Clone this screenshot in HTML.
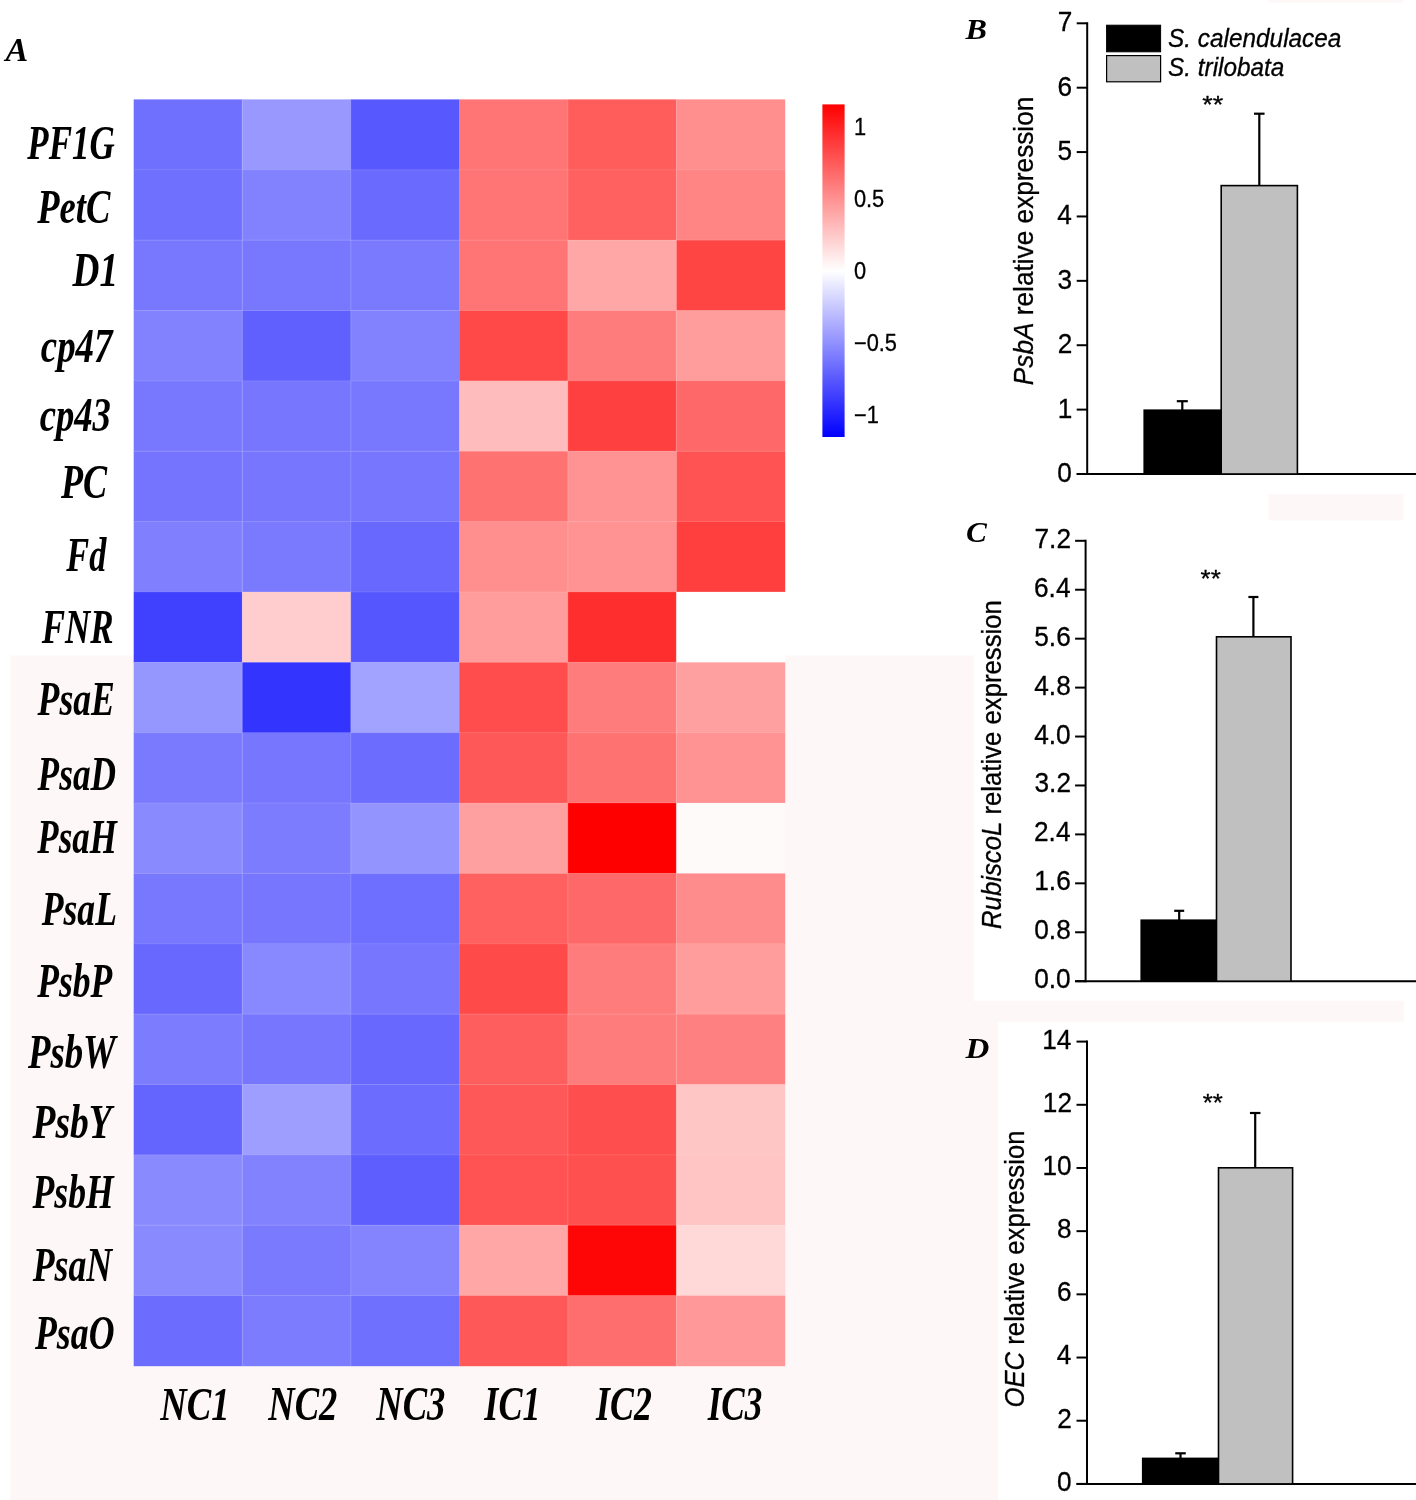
<!DOCTYPE html>
<html><head><meta charset="utf-8"><title>Figure</title>
<style>html,body{margin:0;padding:0;background:#fff;}body{width:1416px;height:1500px;overflow:hidden;}svg{display:block;will-change:transform;}text{fill:#000;}</style>
</head><body>
<svg width="1416" height="1500" viewBox="0 0 1416 1500">
<rect x="0" y="0" width="1416" height="1500" fill="#fff"/>
<polygon fill="#fdf8f7" points="10.4,655.5 973.7,655.5 973.7,1000.7 1403.8,1000.7 1403.8,1021.8 998,1021.8 998,1500 10.4,1500"/>
<rect fill="#fdf8f7" x="1268.3" y="0" width="135.2" height="2.8"/>
<rect fill="#fdf8f7" x="1268.3" y="494" width="135.2" height="26.5"/>
<rect x="133.70" y="99.40" width="108.83" height="70.66" fill="rgb(112,112,255)"/>
<rect x="242.23" y="99.40" width="108.83" height="70.66" fill="rgb(152,152,255)"/>
<rect x="350.77" y="99.40" width="108.83" height="70.66" fill="rgb(88,88,255)"/>
<rect x="459.30" y="99.40" width="108.83" height="70.66" fill="rgb(255,116,116)"/>
<rect x="567.83" y="99.40" width="108.83" height="70.66" fill="rgb(255,92,92)"/>
<rect x="676.37" y="99.40" width="108.83" height="70.66" fill="rgb(255,142,142)"/>
<rect x="133.70" y="169.76" width="108.83" height="70.66" fill="rgb(112,112,255)"/>
<rect x="242.23" y="169.76" width="108.83" height="70.66" fill="rgb(130,130,255)"/>
<rect x="350.77" y="169.76" width="108.83" height="70.66" fill="rgb(106,106,255)"/>
<rect x="459.30" y="169.76" width="108.83" height="70.66" fill="rgb(255,116,116)"/>
<rect x="567.83" y="169.76" width="108.83" height="70.66" fill="rgb(255,96,96)"/>
<rect x="676.37" y="169.76" width="108.83" height="70.66" fill="rgb(255,132,132)"/>
<rect x="133.70" y="240.12" width="108.83" height="70.66" fill="rgb(120,120,255)"/>
<rect x="242.23" y="240.12" width="108.83" height="70.66" fill="rgb(120,120,255)"/>
<rect x="350.77" y="240.12" width="108.83" height="70.66" fill="rgb(122,122,255)"/>
<rect x="459.30" y="240.12" width="108.83" height="70.66" fill="rgb(255,116,116)"/>
<rect x="567.83" y="240.12" width="108.83" height="70.66" fill="rgb(255,166,166)"/>
<rect x="676.37" y="240.12" width="108.83" height="70.66" fill="rgb(255,68,68)"/>
<rect x="133.70" y="310.48" width="108.83" height="70.66" fill="rgb(130,130,255)"/>
<rect x="242.23" y="310.48" width="108.83" height="70.66" fill="rgb(96,96,255)"/>
<rect x="350.77" y="310.48" width="108.83" height="70.66" fill="rgb(130,130,255)"/>
<rect x="459.30" y="310.48" width="108.83" height="70.66" fill="rgb(255,72,72)"/>
<rect x="567.83" y="310.48" width="108.83" height="70.66" fill="rgb(255,124,124)"/>
<rect x="676.37" y="310.48" width="108.83" height="70.66" fill="rgb(255,156,156)"/>
<rect x="133.70" y="380.84" width="108.83" height="70.66" fill="rgb(120,120,255)"/>
<rect x="242.23" y="380.84" width="108.83" height="70.66" fill="rgb(118,118,255)"/>
<rect x="350.77" y="380.84" width="108.83" height="70.66" fill="rgb(120,120,255)"/>
<rect x="459.30" y="380.84" width="108.83" height="70.66" fill="rgb(255,188,188)"/>
<rect x="567.83" y="380.84" width="108.83" height="70.66" fill="rgb(255,64,64)"/>
<rect x="676.37" y="380.84" width="108.83" height="70.66" fill="rgb(255,104,104)"/>
<rect x="133.70" y="451.21" width="108.83" height="70.66" fill="rgb(116,116,255)"/>
<rect x="242.23" y="451.21" width="108.83" height="70.66" fill="rgb(118,118,255)"/>
<rect x="350.77" y="451.21" width="108.83" height="70.66" fill="rgb(118,118,255)"/>
<rect x="459.30" y="451.21" width="108.83" height="70.66" fill="rgb(255,114,114)"/>
<rect x="567.83" y="451.21" width="108.83" height="70.66" fill="rgb(255,146,146)"/>
<rect x="676.37" y="451.21" width="108.83" height="70.66" fill="rgb(255,82,82)"/>
<rect x="133.70" y="521.57" width="108.83" height="70.66" fill="rgb(128,128,255)"/>
<rect x="242.23" y="521.57" width="108.83" height="70.66" fill="rgb(122,122,255)"/>
<rect x="350.77" y="521.57" width="108.83" height="70.66" fill="rgb(104,104,255)"/>
<rect x="459.30" y="521.57" width="108.83" height="70.66" fill="rgb(255,142,142)"/>
<rect x="567.83" y="521.57" width="108.83" height="70.66" fill="rgb(255,146,146)"/>
<rect x="676.37" y="521.57" width="108.83" height="70.66" fill="rgb(255,62,62)"/>
<rect x="133.70" y="591.93" width="108.83" height="70.66" fill="rgb(64,64,255)"/>
<rect x="242.23" y="591.93" width="108.83" height="70.66" fill="rgb(255,205,205)"/>
<rect x="350.77" y="591.93" width="108.83" height="70.66" fill="rgb(86,86,255)"/>
<rect x="459.30" y="591.93" width="108.83" height="70.66" fill="rgb(255,156,156)"/>
<rect x="567.83" y="591.93" width="108.83" height="70.66" fill="rgb(255,46,46)"/>
<rect x="676.37" y="591.93" width="108.83" height="70.66" fill="rgb(255,255,255)"/>
<rect x="133.70" y="662.29" width="108.83" height="70.66" fill="rgb(150,150,255)"/>
<rect x="242.23" y="662.29" width="108.83" height="70.66" fill="rgb(52,52,255)"/>
<rect x="350.77" y="662.29" width="108.83" height="70.66" fill="rgb(162,162,255)"/>
<rect x="459.30" y="662.29" width="108.83" height="70.66" fill="rgb(255,76,76)"/>
<rect x="567.83" y="662.29" width="108.83" height="70.66" fill="rgb(255,124,124)"/>
<rect x="676.37" y="662.29" width="108.83" height="70.66" fill="rgb(255,160,160)"/>
<rect x="133.70" y="732.65" width="108.83" height="70.66" fill="rgb(122,122,255)"/>
<rect x="242.23" y="732.65" width="108.83" height="70.66" fill="rgb(118,118,255)"/>
<rect x="350.77" y="732.65" width="108.83" height="70.66" fill="rgb(108,108,255)"/>
<rect x="459.30" y="732.65" width="108.83" height="70.66" fill="rgb(255,88,88)"/>
<rect x="567.83" y="732.65" width="108.83" height="70.66" fill="rgb(255,114,114)"/>
<rect x="676.37" y="732.65" width="108.83" height="70.66" fill="rgb(255,146,146)"/>
<rect x="133.70" y="803.01" width="108.83" height="70.66" fill="rgb(138,138,255)"/>
<rect x="242.23" y="803.01" width="108.83" height="70.66" fill="rgb(124,124,255)"/>
<rect x="350.77" y="803.01" width="108.83" height="70.66" fill="rgb(148,148,255)"/>
<rect x="459.30" y="803.01" width="108.83" height="70.66" fill="rgb(255,160,160)"/>
<rect x="567.83" y="803.01" width="108.83" height="70.66" fill="rgb(255,0,0)"/>
<rect x="676.37" y="803.01" width="108.83" height="70.66" fill="rgb(255,250,250)"/>
<rect x="133.70" y="873.37" width="108.83" height="70.66" fill="rgb(120,120,255)"/>
<rect x="242.23" y="873.37" width="108.83" height="70.66" fill="rgb(118,118,255)"/>
<rect x="350.77" y="873.37" width="108.83" height="70.66" fill="rgb(110,110,255)"/>
<rect x="459.30" y="873.37" width="108.83" height="70.66" fill="rgb(255,96,96)"/>
<rect x="567.83" y="873.37" width="108.83" height="70.66" fill="rgb(255,104,104)"/>
<rect x="676.37" y="873.37" width="108.83" height="70.66" fill="rgb(255,140,140)"/>
<rect x="133.70" y="943.73" width="108.83" height="70.66" fill="rgb(104,104,255)"/>
<rect x="242.23" y="943.73" width="108.83" height="70.66" fill="rgb(136,136,255)"/>
<rect x="350.77" y="943.73" width="108.83" height="70.66" fill="rgb(118,118,255)"/>
<rect x="459.30" y="943.73" width="108.83" height="70.66" fill="rgb(255,74,74)"/>
<rect x="567.83" y="943.73" width="108.83" height="70.66" fill="rgb(255,124,124)"/>
<rect x="676.37" y="943.73" width="108.83" height="70.66" fill="rgb(255,156,156)"/>
<rect x="133.70" y="1014.09" width="108.83" height="70.66" fill="rgb(124,124,255)"/>
<rect x="242.23" y="1014.09" width="108.83" height="70.66" fill="rgb(118,118,255)"/>
<rect x="350.77" y="1014.09" width="108.83" height="70.66" fill="rgb(104,104,255)"/>
<rect x="459.30" y="1014.09" width="108.83" height="70.66" fill="rgb(255,94,94)"/>
<rect x="567.83" y="1014.09" width="108.83" height="70.66" fill="rgb(255,124,124)"/>
<rect x="676.37" y="1014.09" width="108.83" height="70.66" fill="rgb(255,128,128)"/>
<rect x="133.70" y="1084.46" width="108.83" height="70.66" fill="rgb(100,100,255)"/>
<rect x="242.23" y="1084.46" width="108.83" height="70.66" fill="rgb(158,158,255)"/>
<rect x="350.77" y="1084.46" width="108.83" height="70.66" fill="rgb(108,108,255)"/>
<rect x="459.30" y="1084.46" width="108.83" height="70.66" fill="rgb(255,88,88)"/>
<rect x="567.83" y="1084.46" width="108.83" height="70.66" fill="rgb(255,78,78)"/>
<rect x="676.37" y="1084.46" width="108.83" height="70.66" fill="rgb(255,198,198)"/>
<rect x="133.70" y="1154.82" width="108.83" height="70.66" fill="rgb(138,138,255)"/>
<rect x="242.23" y="1154.82" width="108.83" height="70.66" fill="rgb(130,130,255)"/>
<rect x="350.77" y="1154.82" width="108.83" height="70.66" fill="rgb(94,94,255)"/>
<rect x="459.30" y="1154.82" width="108.83" height="70.66" fill="rgb(255,82,82)"/>
<rect x="567.83" y="1154.82" width="108.83" height="70.66" fill="rgb(255,80,80)"/>
<rect x="676.37" y="1154.82" width="108.83" height="70.66" fill="rgb(255,196,196)"/>
<rect x="133.70" y="1225.18" width="108.83" height="70.66" fill="rgb(138,138,255)"/>
<rect x="242.23" y="1225.18" width="108.83" height="70.66" fill="rgb(122,122,255)"/>
<rect x="350.77" y="1225.18" width="108.83" height="70.66" fill="rgb(132,132,255)"/>
<rect x="459.30" y="1225.18" width="108.83" height="70.66" fill="rgb(255,166,166)"/>
<rect x="567.83" y="1225.18" width="108.83" height="70.66" fill="rgb(255,6,6)"/>
<rect x="676.37" y="1225.18" width="108.83" height="70.66" fill="rgb(255,216,216)"/>
<rect x="133.70" y="1295.54" width="108.83" height="70.66" fill="rgb(108,108,255)"/>
<rect x="242.23" y="1295.54" width="108.83" height="70.66" fill="rgb(124,124,255)"/>
<rect x="350.77" y="1295.54" width="108.83" height="70.66" fill="rgb(112,112,255)"/>
<rect x="459.30" y="1295.54" width="108.83" height="70.66" fill="rgb(255,88,88)"/>
<rect x="567.83" y="1295.54" width="108.83" height="70.66" fill="rgb(255,110,110)"/>
<rect x="676.37" y="1295.54" width="108.83" height="70.66" fill="rgb(255,152,152)"/>
<line x1="242.23" y1="99.4" x2="242.23" y2="1365.9" stroke="#fff" stroke-opacity="0.18" stroke-width="1"/>
<line x1="350.77" y1="99.4" x2="350.77" y2="1365.9" stroke="#fff" stroke-opacity="0.18" stroke-width="1"/>
<line x1="567.83" y1="99.4" x2="567.83" y2="1365.9" stroke="#fff" stroke-opacity="0.18" stroke-width="1"/>
<line x1="676.37" y1="99.4" x2="676.37" y2="1365.9" stroke="#fff" stroke-opacity="0.18" stroke-width="1"/>
<line x1="133.7" y1="169.76" x2="784.9" y2="169.76" stroke="#fff" stroke-opacity="0.12" stroke-width="1"/>
<line x1="133.7" y1="240.12" x2="784.9" y2="240.12" stroke="#fff" stroke-opacity="0.12" stroke-width="1"/>
<line x1="133.7" y1="310.48" x2="784.9" y2="310.48" stroke="#fff" stroke-opacity="0.12" stroke-width="1"/>
<line x1="133.7" y1="380.84" x2="784.9" y2="380.84" stroke="#fff" stroke-opacity="0.12" stroke-width="1"/>
<line x1="133.7" y1="451.21" x2="784.9" y2="451.21" stroke="#fff" stroke-opacity="0.12" stroke-width="1"/>
<line x1="133.7" y1="521.57" x2="784.9" y2="521.57" stroke="#fff" stroke-opacity="0.12" stroke-width="1"/>
<line x1="133.7" y1="591.93" x2="784.9" y2="591.93" stroke="#fff" stroke-opacity="0.12" stroke-width="1"/>
<line x1="133.7" y1="662.29" x2="784.9" y2="662.29" stroke="#fff" stroke-opacity="0.12" stroke-width="1"/>
<line x1="133.7" y1="732.65" x2="784.9" y2="732.65" stroke="#fff" stroke-opacity="0.12" stroke-width="1"/>
<line x1="133.7" y1="803.01" x2="784.9" y2="803.01" stroke="#fff" stroke-opacity="0.12" stroke-width="1"/>
<line x1="133.7" y1="873.37" x2="784.9" y2="873.37" stroke="#fff" stroke-opacity="0.12" stroke-width="1"/>
<line x1="133.7" y1="943.73" x2="784.9" y2="943.73" stroke="#fff" stroke-opacity="0.12" stroke-width="1"/>
<line x1="133.7" y1="1014.09" x2="784.9" y2="1014.09" stroke="#fff" stroke-opacity="0.12" stroke-width="1"/>
<line x1="133.7" y1="1084.46" x2="784.9" y2="1084.46" stroke="#fff" stroke-opacity="0.12" stroke-width="1"/>
<line x1="133.7" y1="1154.82" x2="784.9" y2="1154.82" stroke="#fff" stroke-opacity="0.12" stroke-width="1"/>
<line x1="133.7" y1="1225.18" x2="784.9" y2="1225.18" stroke="#fff" stroke-opacity="0.12" stroke-width="1"/>
<line x1="133.7" y1="1295.54" x2="784.9" y2="1295.54" stroke="#fff" stroke-opacity="0.12" stroke-width="1"/>
<text transform="translate(27.30,158.80) scale(0.7059,1)" font-family="'Liberation Serif',serif" font-style="italic" font-weight="bold" font-size="49.5" stroke="#000" stroke-width="0.02">PF1G</text>
<text transform="translate(37.30,223.20) scale(0.7377,1)" font-family="'Liberation Serif',serif" font-style="italic" font-weight="bold" font-size="49.5" stroke="#000" stroke-width="0.02">PetC</text>
<text transform="translate(72.59,286.00) scale(0.7524,1)" font-family="'Liberation Serif',serif" font-style="italic" font-weight="bold" font-size="49.5" stroke="#000" stroke-width="0.02">D1</text>
<text transform="translate(40.85,362.20) scale(0.7443,1)" font-family="'Liberation Serif',serif" font-style="italic" font-weight="bold" font-size="49.5" stroke="#000" stroke-width="0.02">cp47</text>
<text transform="translate(39.65,430.90) scale(0.7413,1)" font-family="'Liberation Serif',serif" font-style="italic" font-weight="bold" font-size="49.5" stroke="#000" stroke-width="0.02">cp43</text>
<text transform="translate(61.00,498.30) scale(0.7295,1)" font-family="'Liberation Serif',serif" font-style="italic" font-weight="bold" font-size="49.5" stroke="#000" stroke-width="0.02">PC</text>
<text transform="translate(66.30,570.70) scale(0.6929,1)" font-family="'Liberation Serif',serif" font-style="italic" font-weight="bold" font-size="49.5" stroke="#000" stroke-width="0.02">Fd</text>
<text transform="translate(41.70,643.20) scale(0.7061,1)" font-family="'Liberation Serif',serif" font-style="italic" font-weight="bold" font-size="49.5" stroke="#000" stroke-width="0.02">FNR</text>
<text transform="translate(37.60,715.20) scale(0.7204,1)" font-family="'Liberation Serif',serif" font-style="italic" font-weight="bold" font-size="49.5" stroke="#000" stroke-width="0.02">PsaE</text>
<text transform="translate(37.60,790.00) scale(0.7135,1)" font-family="'Liberation Serif',serif" font-style="italic" font-weight="bold" font-size="49.5" stroke="#000" stroke-width="0.02">PsaD</text>
<text transform="translate(37.30,852.50) scale(0.7055,1)" font-family="'Liberation Serif',serif" font-style="italic" font-weight="bold" font-size="49.5" stroke="#000" stroke-width="0.02">PsaH</text>
<text transform="translate(41.70,925.20) scale(0.7200,1)" font-family="'Liberation Serif',serif" font-style="italic" font-weight="bold" font-size="49.5" stroke="#000" stroke-width="0.02">PsaL</text>
<text transform="translate(37.30,997.00) scale(0.7185,1)" font-family="'Liberation Serif',serif" font-style="italic" font-weight="bold" font-size="49.5" stroke="#000" stroke-width="0.02">PsbP</text>
<text transform="translate(27.90,1067.90) scale(0.7438,1)" font-family="'Liberation Serif',serif" font-style="italic" font-weight="bold" font-size="49.5" stroke="#000" stroke-width="0.02">PsbW</text>
<text transform="translate(32.50,1138.00) scale(0.7583,1)" font-family="'Liberation Serif',serif" font-style="italic" font-weight="bold" font-size="49.5" stroke="#000" stroke-width="0.02">PsbY</text>
<text transform="translate(32.50,1207.60) scale(0.7204,1)" font-family="'Liberation Serif',serif" font-style="italic" font-weight="bold" font-size="49.5" stroke="#000" stroke-width="0.02">PsbH</text>
<text transform="translate(32.70,1281.20) scale(0.7228,1)" font-family="'Liberation Serif',serif" font-style="italic" font-weight="bold" font-size="49.5" stroke="#000" stroke-width="0.02">PsaN</text>
<text transform="translate(35.00,1349.40) scale(0.7225,1)" font-family="'Liberation Serif',serif" font-style="italic" font-weight="bold" font-size="49.5" stroke="#000" stroke-width="0.02">PsaO</text>
<text transform="translate(160.37,1420.00) scale(0.7719,1)" font-family="'Liberation Serif',serif" font-style="italic" font-weight="bold" font-size="47.5" stroke="#000" stroke-width="0.02">NC1</text>
<text transform="translate(268.37,1420.00) scale(0.7691,1)" font-family="'Liberation Serif',serif" font-style="italic" font-weight="bold" font-size="47.5" stroke="#000" stroke-width="0.02">NC2</text>
<text transform="translate(376.37,1420.00) scale(0.7691,1)" font-family="'Liberation Serif',serif" font-style="italic" font-weight="bold" font-size="47.5" stroke="#000" stroke-width="0.02">NC3</text>
<text transform="translate(484.36,1420.00) scale(0.7588,1)" font-family="'Liberation Serif',serif" font-style="italic" font-weight="bold" font-size="47.5" stroke="#000" stroke-width="0.02">IC1</text>
<text transform="translate(596.06,1420.00) scale(0.7546,1)" font-family="'Liberation Serif',serif" font-style="italic" font-weight="bold" font-size="47.5" stroke="#000" stroke-width="0.02">IC2</text>
<text transform="translate(707.65,1420.00) scale(0.7382,1)" font-family="'Liberation Serif',serif" font-style="italic" font-weight="bold" font-size="47.5" stroke="#000" stroke-width="0.02">IC3</text>
<text transform="translate(5.50,60.60) scale(1.0325,1)" font-family="'Liberation Serif',serif" font-style="italic" font-weight="bold" font-size="33" >A</text>
<text transform="translate(965.62,39.30) scale(1.0911,1)" font-family="'Liberation Serif',serif" font-style="italic" font-weight="bold" font-size="29.5" >B</text>
<text transform="translate(965.91,542.00) scale(1.0417,1)" font-family="'Liberation Serif',serif" font-style="italic" font-weight="bold" font-size="30" >C</text>
<text transform="translate(965.47,1057.60) scale(1.1017,1)" font-family="'Liberation Serif',serif" font-style="italic" font-weight="bold" font-size="30" >D</text>
<defs><linearGradient id="cb" x1="0" y1="0" x2="0" y2="1"><stop offset="0" stop-color="#ff0000"/><stop offset="0.5" stop-color="#ffffff"/><stop offset="1" stop-color="#0000ff"/></linearGradient></defs>
<rect x="822.4" y="104.4" width="22.2" height="332.6" fill="url(#cb)"/>
<text transform="translate(853.9,135.1) scale(0.925,1)" font-family="'Liberation Sans',sans-serif" font-size="23.6" stroke="#000" stroke-width="0.3">1</text>
<text transform="translate(853.9,206.8) scale(0.925,1)" font-family="'Liberation Sans',sans-serif" font-size="23.6" stroke="#000" stroke-width="0.3">0.5</text>
<text transform="translate(853.9,279.0) scale(0.925,1)" font-family="'Liberation Sans',sans-serif" font-size="23.6" stroke="#000" stroke-width="0.3">0</text>
<text transform="translate(853.9,350.7) scale(0.925,1)" font-family="'Liberation Sans',sans-serif" font-size="23.6" stroke="#000" stroke-width="0.3">−0.5</text>
<text transform="translate(853.9,423.0) scale(0.925,1)" font-family="'Liberation Sans',sans-serif" font-size="23.6" stroke="#000" stroke-width="0.3">−1</text>
<line x1="1087.2" y1="22.3" x2="1087.2" y2="475.0" stroke="#000" stroke-width="2"/>
<line x1="1076.7" y1="474.0" x2="1416" y2="474.0" stroke="#000" stroke-width="2"/>
<line x1="1076.7" y1="23.30" x2="1087.2" y2="23.30" stroke="#000" stroke-width="2"/>
<text transform="translate(1057.76,31.20) scale(0.9600,1)" font-family="'Liberation Sans',sans-serif" font-style="normal" font-size="27.3" stroke="#000" stroke-width="0.3">7</text>
<line x1="1076.7" y1="87.69" x2="1087.2" y2="87.69" stroke="#000" stroke-width="2"/>
<text transform="translate(1057.50,95.59) scale(0.9600,1)" font-family="'Liberation Sans',sans-serif" font-style="normal" font-size="27.3" stroke="#000" stroke-width="0.3">6</text>
<line x1="1076.7" y1="152.07" x2="1087.2" y2="152.07" stroke="#000" stroke-width="2"/>
<text transform="translate(1057.50,159.97) scale(0.9600,1)" font-family="'Liberation Sans',sans-serif" font-style="normal" font-size="27.3" stroke="#000" stroke-width="0.3">5</text>
<line x1="1076.7" y1="216.46" x2="1087.2" y2="216.46" stroke="#000" stroke-width="2"/>
<text transform="translate(1057.24,224.36) scale(0.9600,1)" font-family="'Liberation Sans',sans-serif" font-style="normal" font-size="27.3" stroke="#000" stroke-width="0.3">4</text>
<line x1="1076.7" y1="280.84" x2="1087.2" y2="280.84" stroke="#000" stroke-width="2"/>
<text transform="translate(1057.50,288.74) scale(0.9600,1)" font-family="'Liberation Sans',sans-serif" font-style="normal" font-size="27.3" stroke="#000" stroke-width="0.3">3</text>
<line x1="1076.7" y1="345.23" x2="1087.2" y2="345.23" stroke="#000" stroke-width="2"/>
<text transform="translate(1057.76,353.13) scale(0.9600,1)" font-family="'Liberation Sans',sans-serif" font-style="normal" font-size="27.3" stroke="#000" stroke-width="0.3">2</text>
<line x1="1076.7" y1="409.61" x2="1087.2" y2="409.61" stroke="#000" stroke-width="2"/>
<text transform="translate(1057.63,417.51) scale(0.9600,1)" font-family="'Liberation Sans',sans-serif" font-style="normal" font-size="27.3" stroke="#000" stroke-width="0.3">1</text>
<line x1="1076.7" y1="474.00" x2="1087.2" y2="474.00" stroke="#000" stroke-width="2"/>
<text transform="translate(1057.37,481.90) scale(0.9600,1)" font-family="'Liberation Sans',sans-serif" font-style="normal" font-size="27.3" stroke="#000" stroke-width="0.3">0</text>
<rect x="1144.2" y="410.2" width="77.0" height="63.80000000000001" fill="#000" stroke="#000" stroke-width="1.6"/>
<rect x="1221.2" y="185.6" width="76.20000000000005" height="288.4" fill="#c0c0c0" stroke="#000" stroke-width="1.6"/>
<line x1="1182.3" y1="401.2" x2="1182.3" y2="410.2" stroke="#000" stroke-width="2.2"/>
<line x1="1176.8" y1="401.2" x2="1187.8" y2="401.2" stroke="#000" stroke-width="2.2"/>
<line x1="1259.3" y1="113.7" x2="1259.3" y2="185.6" stroke="#000" stroke-width="2.2"/>
<line x1="1254.05" y1="113.7" x2="1264.55" y2="113.7" stroke="#000" stroke-width="2.2"/>
<text transform="translate(1202.20,113.10) scale(1.1222,1)" font-family="'Liberation Sans',sans-serif" font-style="normal" font-weight="normal" font-size="24" stroke="#000" stroke-width="0.3">**</text>
<g transform="translate(1032.7,385.2) rotate(-90) scale(0.9539,1)"><text font-family="'Liberation Sans',sans-serif" font-size="27.5" stroke="#000" stroke-width="0.3"><tspan font-style="italic">PsbA</tspan> relative expression</text></g>
<rect x="1106.6" y="25.2" width="54" height="26.6" fill="#000" stroke="#000" stroke-width="1"/>
<rect x="1106.6" y="55.6" width="54" height="26.2" fill="#c0c0c0" stroke="#000" stroke-width="1.2"/>
<text transform="translate(1168.07,46.80) scale(0.9594,1)" font-family="'Liberation Sans',sans-serif" font-style="italic" font-weight="normal" font-size="25.4" stroke="#000" stroke-width="0.3">S. calendulacea</text>
<text transform="translate(1168.07,76.00) scale(0.9577,1)" font-family="'Liberation Sans',sans-serif" font-style="italic" font-weight="normal" font-size="25.4" stroke="#000" stroke-width="0.3">S. trilobata</text>
<line x1="1085.6" y1="539.8" x2="1085.6" y2="982.2" stroke="#000" stroke-width="2"/>
<line x1="1075.1" y1="981.2" x2="1416" y2="981.2" stroke="#000" stroke-width="2"/>
<line x1="1075.1" y1="540.80" x2="1085.6" y2="540.80" stroke="#000" stroke-width="2"/>
<text transform="translate(1034.53,547.80) scale(0.9650,1)" font-family="'Liberation Sans',sans-serif" font-style="normal" font-size="27.2" stroke="#000" stroke-width="0.3">7.2</text>
<line x1="1075.1" y1="589.73" x2="1085.6" y2="589.73" stroke="#000" stroke-width="2"/>
<text transform="translate(1034.00,596.73) scale(0.9650,1)" font-family="'Liberation Sans',sans-serif" font-style="normal" font-size="27.2" stroke="#000" stroke-width="0.3">6.4</text>
<line x1="1075.1" y1="638.67" x2="1085.6" y2="638.67" stroke="#000" stroke-width="2"/>
<text transform="translate(1034.27,645.67) scale(0.9650,1)" font-family="'Liberation Sans',sans-serif" font-style="normal" font-size="27.2" stroke="#000" stroke-width="0.3">5.6</text>
<line x1="1075.1" y1="687.60" x2="1085.6" y2="687.60" stroke="#000" stroke-width="2"/>
<text transform="translate(1034.27,694.60) scale(0.9650,1)" font-family="'Liberation Sans',sans-serif" font-style="normal" font-size="27.2" stroke="#000" stroke-width="0.3">4.8</text>
<line x1="1075.1" y1="736.53" x2="1085.6" y2="736.53" stroke="#000" stroke-width="2"/>
<text transform="translate(1034.13,743.53) scale(0.9650,1)" font-family="'Liberation Sans',sans-serif" font-style="normal" font-size="27.2" stroke="#000" stroke-width="0.3">4.0</text>
<line x1="1075.1" y1="785.47" x2="1085.6" y2="785.47" stroke="#000" stroke-width="2"/>
<text transform="translate(1034.53,792.47) scale(0.9650,1)" font-family="'Liberation Sans',sans-serif" font-style="normal" font-size="27.2" stroke="#000" stroke-width="0.3">3.2</text>
<line x1="1075.1" y1="834.40" x2="1085.6" y2="834.40" stroke="#000" stroke-width="2"/>
<text transform="translate(1034.00,841.40) scale(0.9650,1)" font-family="'Liberation Sans',sans-serif" font-style="normal" font-size="27.2" stroke="#000" stroke-width="0.3">2.4</text>
<line x1="1075.1" y1="883.33" x2="1085.6" y2="883.33" stroke="#000" stroke-width="2"/>
<text transform="translate(1034.27,890.33) scale(0.9650,1)" font-family="'Liberation Sans',sans-serif" font-style="normal" font-size="27.2" stroke="#000" stroke-width="0.3">1.6</text>
<line x1="1075.1" y1="932.27" x2="1085.6" y2="932.27" stroke="#000" stroke-width="2"/>
<text transform="translate(1034.27,939.27) scale(0.9650,1)" font-family="'Liberation Sans',sans-serif" font-style="normal" font-size="27.2" stroke="#000" stroke-width="0.3">0.8</text>
<line x1="1075.1" y1="981.20" x2="1085.6" y2="981.20" stroke="#000" stroke-width="2"/>
<text transform="translate(1034.13,988.20) scale(0.9650,1)" font-family="'Liberation Sans',sans-serif" font-style="normal" font-size="27.2" stroke="#000" stroke-width="0.3">0.0</text>
<rect x="1141.2" y="920.2" width="75.29999999999995" height="61.0" fill="#000" stroke="#000" stroke-width="1.6"/>
<rect x="1216.5" y="636.8" width="74.5" height="344.4000000000001" fill="#c0c0c0" stroke="#000" stroke-width="1.6"/>
<line x1="1179.2" y1="910.8" x2="1179.2" y2="920.2" stroke="#000" stroke-width="2.2"/>
<line x1="1174.2" y1="910.8" x2="1184.2" y2="910.8" stroke="#000" stroke-width="2.2"/>
<line x1="1253.4" y1="597" x2="1253.4" y2="636.8" stroke="#000" stroke-width="2.2"/>
<line x1="1248.4" y1="597" x2="1258.4" y2="597" stroke="#000" stroke-width="2.2"/>
<text transform="translate(1200.61,587.40) scale(1.0833,1)" font-family="'Liberation Sans',sans-serif" font-style="normal" font-weight="normal" font-size="24" stroke="#000" stroke-width="0.3">**</text>
<g transform="translate(1001,929) rotate(-90) scale(0.9358,1)"><text font-family="'Liberation Sans',sans-serif" font-size="27.5" stroke="#000" stroke-width="0.3"><tspan font-style="italic">RubiscoL</tspan> relative expression</text></g>
<line x1="1087.0" y1="1040.6" x2="1087.0" y2="1484.9" stroke="#000" stroke-width="2"/>
<line x1="1076.5" y1="1483.9" x2="1416" y2="1483.9" stroke="#000" stroke-width="2"/>
<line x1="1076.5" y1="1041.60" x2="1087.0" y2="1041.60" stroke="#000" stroke-width="2"/>
<text transform="translate(1042.30,1048.50) scale(0.9600,1)" font-family="'Liberation Sans',sans-serif" font-style="normal" font-size="27.3" stroke="#000" stroke-width="0.3">14</text>
<line x1="1076.5" y1="1104.79" x2="1087.0" y2="1104.79" stroke="#000" stroke-width="2"/>
<text transform="translate(1042.82,1111.69) scale(0.9600,1)" font-family="'Liberation Sans',sans-serif" font-style="normal" font-size="27.3" stroke="#000" stroke-width="0.3">12</text>
<line x1="1076.5" y1="1167.97" x2="1087.0" y2="1167.97" stroke="#000" stroke-width="2"/>
<text transform="translate(1042.43,1174.87) scale(0.9600,1)" font-family="'Liberation Sans',sans-serif" font-style="normal" font-size="27.3" stroke="#000" stroke-width="0.3">10</text>
<line x1="1076.5" y1="1231.16" x2="1087.0" y2="1231.16" stroke="#000" stroke-width="2"/>
<text transform="translate(1057.10,1238.06) scale(0.9600,1)" font-family="'Liberation Sans',sans-serif" font-style="normal" font-size="27.3" stroke="#000" stroke-width="0.3">8</text>
<line x1="1076.5" y1="1294.34" x2="1087.0" y2="1294.34" stroke="#000" stroke-width="2"/>
<text transform="translate(1057.10,1301.24) scale(0.9600,1)" font-family="'Liberation Sans',sans-serif" font-style="normal" font-size="27.3" stroke="#000" stroke-width="0.3">6</text>
<line x1="1076.5" y1="1357.53" x2="1087.0" y2="1357.53" stroke="#000" stroke-width="2"/>
<text transform="translate(1056.84,1364.43) scale(0.9600,1)" font-family="'Liberation Sans',sans-serif" font-style="normal" font-size="27.3" stroke="#000" stroke-width="0.3">4</text>
<line x1="1076.5" y1="1420.71" x2="1087.0" y2="1420.71" stroke="#000" stroke-width="2"/>
<text transform="translate(1057.36,1427.61) scale(0.9600,1)" font-family="'Liberation Sans',sans-serif" font-style="normal" font-size="27.3" stroke="#000" stroke-width="0.3">2</text>
<line x1="1076.5" y1="1483.90" x2="1087.0" y2="1483.90" stroke="#000" stroke-width="2"/>
<text transform="translate(1056.97,1490.80) scale(0.9600,1)" font-family="'Liberation Sans',sans-serif" font-style="normal" font-size="27.3" stroke="#000" stroke-width="0.3">0</text>
<rect x="1142.7" y="1458.4" width="75.79999999999995" height="25.5" fill="#000" stroke="#000" stroke-width="1.6"/>
<rect x="1218.5" y="1167.8" width="74.09999999999991" height="316.10000000000014" fill="#c0c0c0" stroke="#000" stroke-width="1.6"/>
<line x1="1180.5" y1="1453.3" x2="1180.5" y2="1458.4" stroke="#000" stroke-width="2.2"/>
<line x1="1175.25" y1="1453.3" x2="1185.75" y2="1453.3" stroke="#000" stroke-width="2.2"/>
<line x1="1255.2" y1="1113" x2="1255.2" y2="1167.8" stroke="#000" stroke-width="2.2"/>
<line x1="1249.95" y1="1113" x2="1260.45" y2="1113" stroke="#000" stroke-width="2.2"/>
<text transform="translate(1202.81,1111.20) scale(1.0778,1)" font-family="'Liberation Sans',sans-serif" font-style="normal" font-weight="normal" font-size="24" stroke="#000" stroke-width="0.3">**</text>
<g transform="translate(1024,1407.5) rotate(-90) scale(0.9342,1)"><text font-family="'Liberation Sans',sans-serif" font-size="27.5" stroke="#000" stroke-width="0.3"><tspan font-style="italic">OEC</tspan> relative expression</text></g>
</svg>
</body></html>
